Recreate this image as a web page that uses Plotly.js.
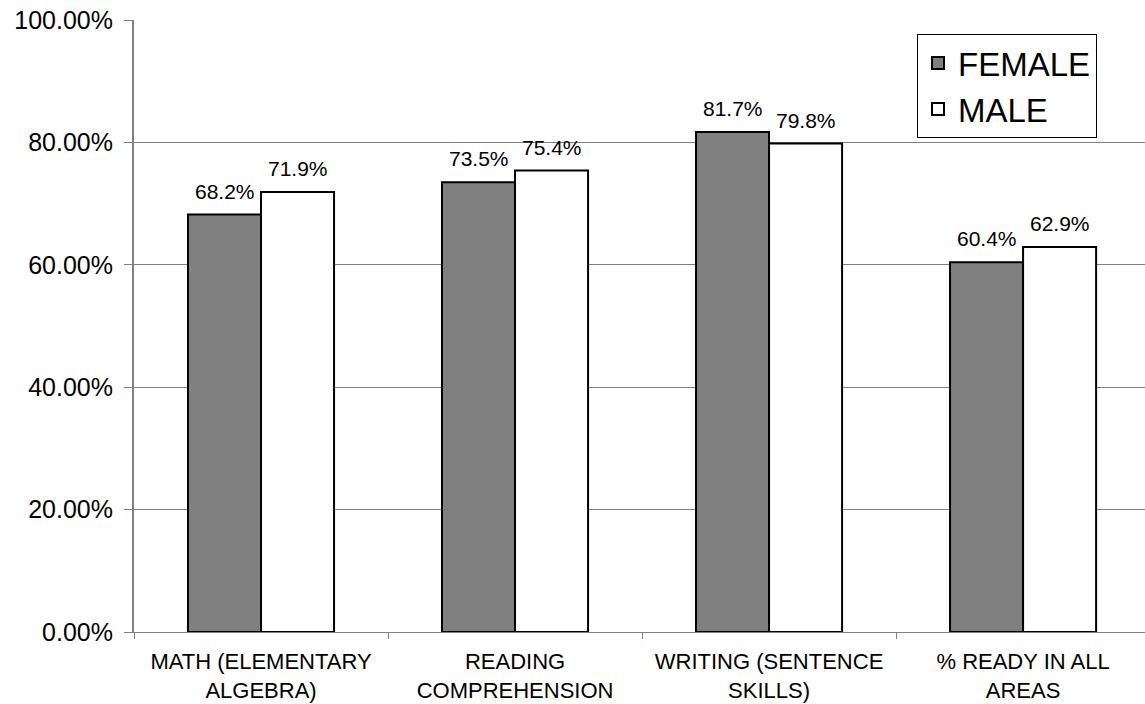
<!DOCTYPE html>
<html><head><meta charset="utf-8">
<script src="https://cdn.plot.ly/plotly-3.0.1.min.js"></script>
<style>body{margin:0;background:#fff}#c{width:1145px;height:704px}</style>
</head><body><div id="c"></div>
<script>
const categories = ["MATH (ELEMENTARY<br>ALGEBRA)", "READING<br>COMPREHENSION", "WRITING (SENTENCE<br>SKILLS)", "% READY IN ALL<br>AREAS"];
const female = [0.682, 0.735, 0.817, 0.604];
const male = [0.719, 0.754, 0.798, 0.629];
const yTicks = [0, 0.2, 0.4, 0.6, 0.8, 1.0];
const fmt = v => (v*100).toFixed(1) + "%";
const lblFont = {family: "Liberation Sans, Arial, sans-serif", size: 21, color: "#000"};
const traces = [
  {type: "bar", name: "FEMALE", x: categories, y: female,
   marker: {color: "#808080", line: {color: "#000", width: 2}}},
  {type: "bar", name: "MALE", x: categories, y: male,
   marker: {color: "#ffffff", line: {color: "#000", width: 2}}}
];
// value labels placed via the axes (data coordinates), shifted over each bar of the group
const annotations = [];
const halfBar = 36.5;
categories.forEach((c, i) => {
  annotations.push({x: c, y: female[i], xref: "x", yref: "y", text: fmt(female[i]),
    showarrow: false, yanchor: "bottom", xshift: -halfBar, yshift: 10, font: lblFont});
  annotations.push({x: c, y: male[i], xref: "x", yref: "y", text: fmt(male[i]),
    showarrow: false, yanchor: "bottom", xshift: halfBar, yshift: 10, font: lblFont});
});
const layout = {
  width: 1145, height: 704,
  margin: {l: 134, r: 0, t: 20, b: 72},
  paper_bgcolor: "#fff", plot_bgcolor: "#fff",
  barmode: "group", bargap: 0.425, bargroupgap: 0,
  font: {family: "Liberation Sans, Arial, sans-serif", color: "#000"},
  annotations: annotations,
  xaxis: {type: "category", range: [-0.5, 3.48], showgrid: false,
    showline: true, linecolor: "#808080", linewidth: 1,
    ticks: "outside", tickson: "boundaries", ticklen: 6, tickcolor: "#808080",
    ticklabelstandoff: 10, tickfont: {size: 22}},
  yaxis: {range: [0, 1], tickvals: yTicks, tickformat: ".2%",
    showgrid: true, gridcolor: "#808080", gridwidth: 1,
    showline: true, linecolor: "#808080", linewidth: 2,
    ticks: "outside", ticklen: 8, tickcolor: "#808080",
    ticklabelstandoff: 6, tickfont: {size: 25}, zeroline: false},
  showlegend: true,
  legend: {x: 0.7745, y: 0.977, xanchor: "left", yanchor: "top",
    bordercolor: "#000", borderwidth: 1, bgcolor: "#fff",
    font: {size: 33}, itemwidth: 30}
};
Plotly.newPlot("c", traces, layout, {displayModeBar: false});
</script></body></html>
